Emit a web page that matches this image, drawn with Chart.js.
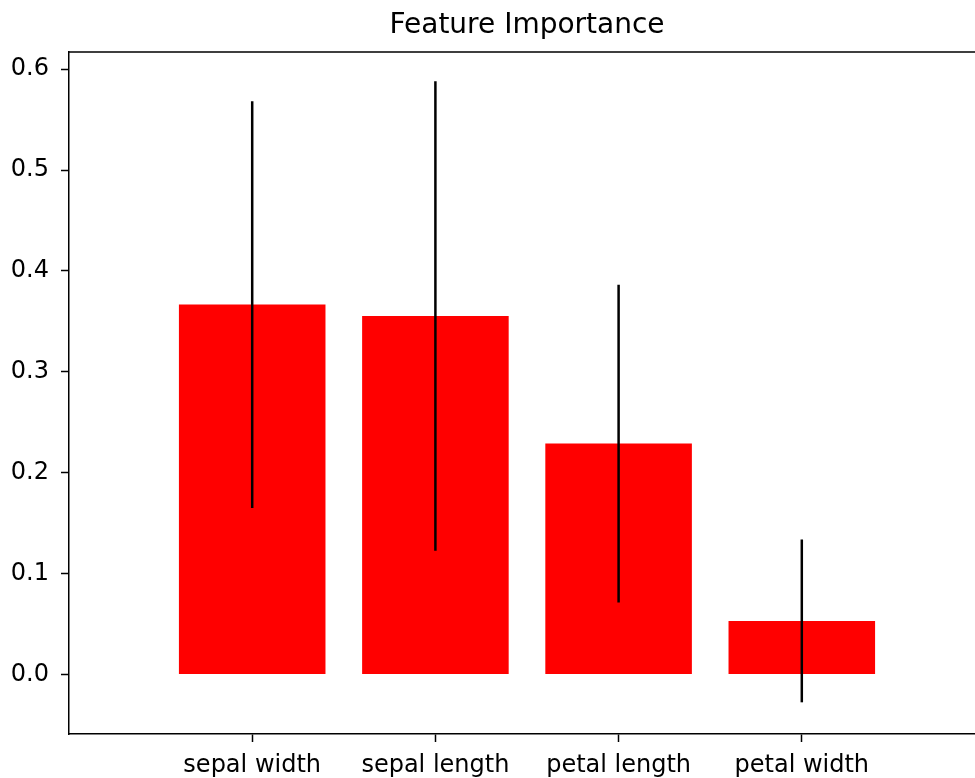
<!DOCTYPE html>
<html>
<head>
<meta charset="utf-8">
<title>Feature Importance</title>
<script src="https://cdn.jsdelivr.net/npm/chart.js@4.4.1/dist/chart.umd.min.js"></script>
<style>
  html, body { margin: 0; padding: 0; overflow: hidden; background: #fff; }
  #wrap { width: 1000px; height: 778px; }
</style>
</head>
<body>
<div id="wrap"><canvas id="chart"></canvas></div>
<script>
// ── Data ───────────────────────────────────────────────────────────────────
const features = ["sepal width", "sepal length", "petal length", "petal width"];
const importances = [0.3666, 0.3553, 0.2289, 0.0531];
const stdDevs = [0.2015, 0.2327, 0.1575, 0.0807];
const yTicks = [0.0, 0.1, 0.2, 0.3, 0.4, 0.5, 0.6];

const Y_MIN = -0.059;
const Y_MAX = 0.617;

const FONT = "'DejaVu Sans', sans-serif";
const INK = "#000";
const BAR_RED = "#ff0000";

// matplotlib puts a blank unit either side of the bars (xlim -1..4)
const xLabels = ["", ...features, ""];
const barData = [null, ...importances, null];

// error bars (no caps), drawn on top of the bars
const errorBars = {
  id: "errorBars",
  afterDatasetsDraw(chart) {
    const meta = chart.getDatasetMeta(0);
    const y = chart.scales.y;
    const ctx = chart.ctx;
    ctx.save();
    ctx.strokeStyle = INK;
    ctx.lineWidth = 2.5;
    importances.forEach((v, i) => {
      const bar = meta.data[i + 1];
      if (!bar) return;
      ctx.beginPath();
      ctx.moveTo(bar.x, y.getPixelForValue(v - stdDevs[i]));
      ctx.lineTo(bar.x, y.getPixelForValue(v + stdDevs[i]));
      ctx.stroke();
    });
    ctx.restore();
  },
};

// top and right spines
const frame = {
  id: "frame",
  afterDraw(chart) {
    const a = chart.chartArea;
    const ctx = chart.ctx;
    ctx.save();
    ctx.strokeStyle = INK;
    ctx.lineWidth = 1.5;
    ctx.beginPath();
    ctx.moveTo(a.left, a.top);
    ctx.lineTo(a.right, a.top);
    ctx.lineTo(a.right, a.bottom);
    ctx.stroke();
    ctx.restore();
  },
};

new Chart(document.getElementById("chart"), {
  type: "bar",
  data: {
    labels: xLabels,
    datasets: [
      {
        data: barData,
        backgroundColor: BAR_RED,
        borderWidth: 0,
        barPercentage: 0.8,
        categoryPercentage: 1.0,
      },
    ],
  },
  options: {
    responsive: true,
    maintainAspectRatio: false,
    devicePixelRatio: 1,
    animation: false,
    layout: { padding: { left: 0, right: 15, top: 0, bottom: 0 } },
    plugins: {
      legend: { display: false },
      tooltip: { enabled: false },
      title: {
        display: true,
        text: "Feature Importance",
        fullSize: false,
        color: INK,
        font: { family: FONT, size: 28, weight: "normal", lineHeight: 1.2 },
        padding: { top: 9, bottom: 9.4 },
      },
    },
    scales: {
      x: {
        type: "category",
        offset: false,
        afterFit: (s) => { s.height = 44; },
        border: { display: true, color: INK, width: 1.5 },
        grid: {
          offset: false,
          drawOnChartArea: false,
          drawTicks: true,
          tickLength: 8,
          tickWidth: 1.5,
          tickColor: (c) => (c.index > 0 && c.index <= features.length ? INK : "transparent"),
        },
        ticks: {
          color: INK,
          autoSkip: false,
          maxRotation: 0,
          padding: 9,
          font: { family: FONT, size: 24 },
        },
      },
      y: {
        min: Y_MIN,
        max: Y_MAX,
        afterFit: (s) => { s.width = 69; },
        afterBuildTicks: (s) => { s.ticks = yTicks.map((v) => ({ value: v })); },
        border: { display: true, color: INK, width: 1.5 },
        grid: {
          drawOnChartArea: false,
          drawTicks: true,
          tickLength: 8,
          tickWidth: 1.5,
          tickColor: INK,
        },
        ticks: {
          color: INK,
          padding: 12,
          font: { family: FONT, size: 24 },
          callback: (v) => Number(v).toFixed(1),
        },
      },
    },
  },
  plugins: [errorBars, frame],
});
</script>
</body>
</html>
